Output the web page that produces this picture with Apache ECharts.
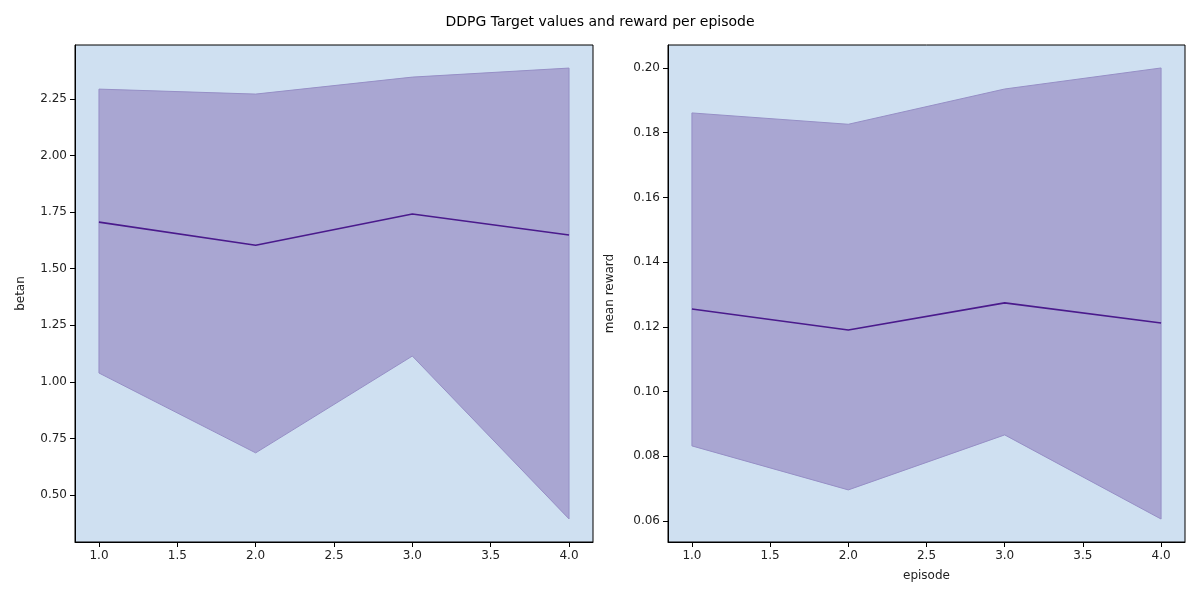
<!DOCTYPE html>
<html>
<head>
<meta charset="utf-8">
<script src="https://cdn.jsdelivr.net/npm/echarts@6/dist/echarts.min.js"></script>
<style>html,body{margin:0;padding:0;background:#fff}#c{width:1200px;height:600px}</style>
</head>
<body>
<div id="c"></div>
<script>
const episodes = [1, 2, 3, 4];
const betanMean = [1.706, 1.604, 1.742, 1.649];
const betanLow = [1.039, 0.686, 1.114, 0.394];
const betanHigh = [2.294, 2.272, 2.347, 2.387];
const rewardMean = [0.1255, 0.1190, 0.1274, 0.1212];
const rewardLow = [0.0832, 0.0696, 0.0866, 0.0606];
const rewardHigh = [0.1861, 0.1826, 0.1935, 0.2000];
const xTicks = [1.0, 1.5, 2.0, 2.5, 3.0, 3.5, 4.0];
const betanTicks = [0.5, 0.75, 1.0, 1.25, 1.5, 1.75, 2.0, 2.25];
const rewardTicks = [0.06, 0.08, 0.10, 0.12, 0.14, 0.16, 0.18, 0.20];

const font = { color: '#222', fontSize: 12, fontFamily: 'DejaVu Sans' };
const pairs = (ys) => episodes.map((x, i) => [x, ys[i]]);

function xAxis(idx, name) {
    return {
        type: 'value', gridIndex: idx, min: 0.847, max: 4.153,
        name: name, nameLocation: 'middle', nameGap: 28, nameTextStyle: font,
        axisLine: { show: true, onZero: false, lineStyle: { color: '#000' } },
        axisTick: { show: true, customValues: xTicks, lineStyle: { color: '#000' } },
        axisLabel: { customValues: xTicks, formatter: v => v.toFixed(1), ...font },
        splitLine: { show: false }
    };
}
function yAxis(idx, name, min, max, ticks) {
    return {
        type: 'value', gridIndex: idx, min: min, max: max,
        name: name, nameLocation: 'middle', nameGap: idx === 0 ? 48 : 52, nameTextStyle: font,
        axisLine: { show: true, lineStyle: { color: '#000' } },
        axisTick: { show: true, customValues: ticks, lineStyle: { color: '#000' } },
        axisLabel: { customValues: ticks, formatter: v => v.toFixed(2), ...font },
        splitLine: { show: false }
    };
}
function band(idx, low, high, mean) {
    // rows: [x, low, high]
    const rows = episodes.map((x, i) => [x, low[i], high[i]]);
    return [
        { type: 'custom', xAxisIndex: idx, yAxisIndex: idx, data: rows, silent: true, z: 2,
          renderItem: (params, api) => {
              if (params.dataIndex !== 0) return null;
              const top = rows.map(r => api.coord([r[0], r[2]]));
              const bot = rows.map(r => api.coord([r[0], r[1]])).reverse();
              return {
                  type: 'polygon',
                  shape: { points: top.concat(bot) },
                  style: { fill: '#a9a6d2', stroke: '#968fc6', lineWidth: 1 }
              };
          } },
        { type: 'line', xAxisIndex: idx, yAxisIndex: idx, data: pairs(mean), symbol: 'none',
          lineStyle: { color: '#4a1a8c', width: 1.6 }, z: 3 }
    ];
}

const chart = echarts.init(document.getElementById('c'));
chart.setOption({
    animation: false,
    title: { text: 'DDPG Target values and reward per episode', left: 'center', top: 10,
             textStyle: { fontSize: 14, fontWeight: 'normal', color: '#000', fontFamily: 'DejaVu Sans' } },
    grid: [
        { left: 75, top: 45, width: 518, height: 497, show: true, backgroundColor: '#cfe0f1', borderColor: '#000', borderWidth: 1 },
        { left: 668, top: 45, width: 517, height: 497, show: true, backgroundColor: '#cfe0f1', borderColor: '#000', borderWidth: 1 }
    ],
    xAxis: [xAxis(0, ''), xAxis(1, 'episode')],
    yAxis: [
        yAxis(0, 'betan', 0.292, 2.489, betanTicks),
        yAxis(1, 'mean reward', 0.0535, 0.2071, rewardTicks)
    ],
    series: [...band(0, betanLow, betanHigh, betanMean), ...band(1, rewardLow, rewardHigh, rewardMean)]
});
</script>
</body>
</html>
